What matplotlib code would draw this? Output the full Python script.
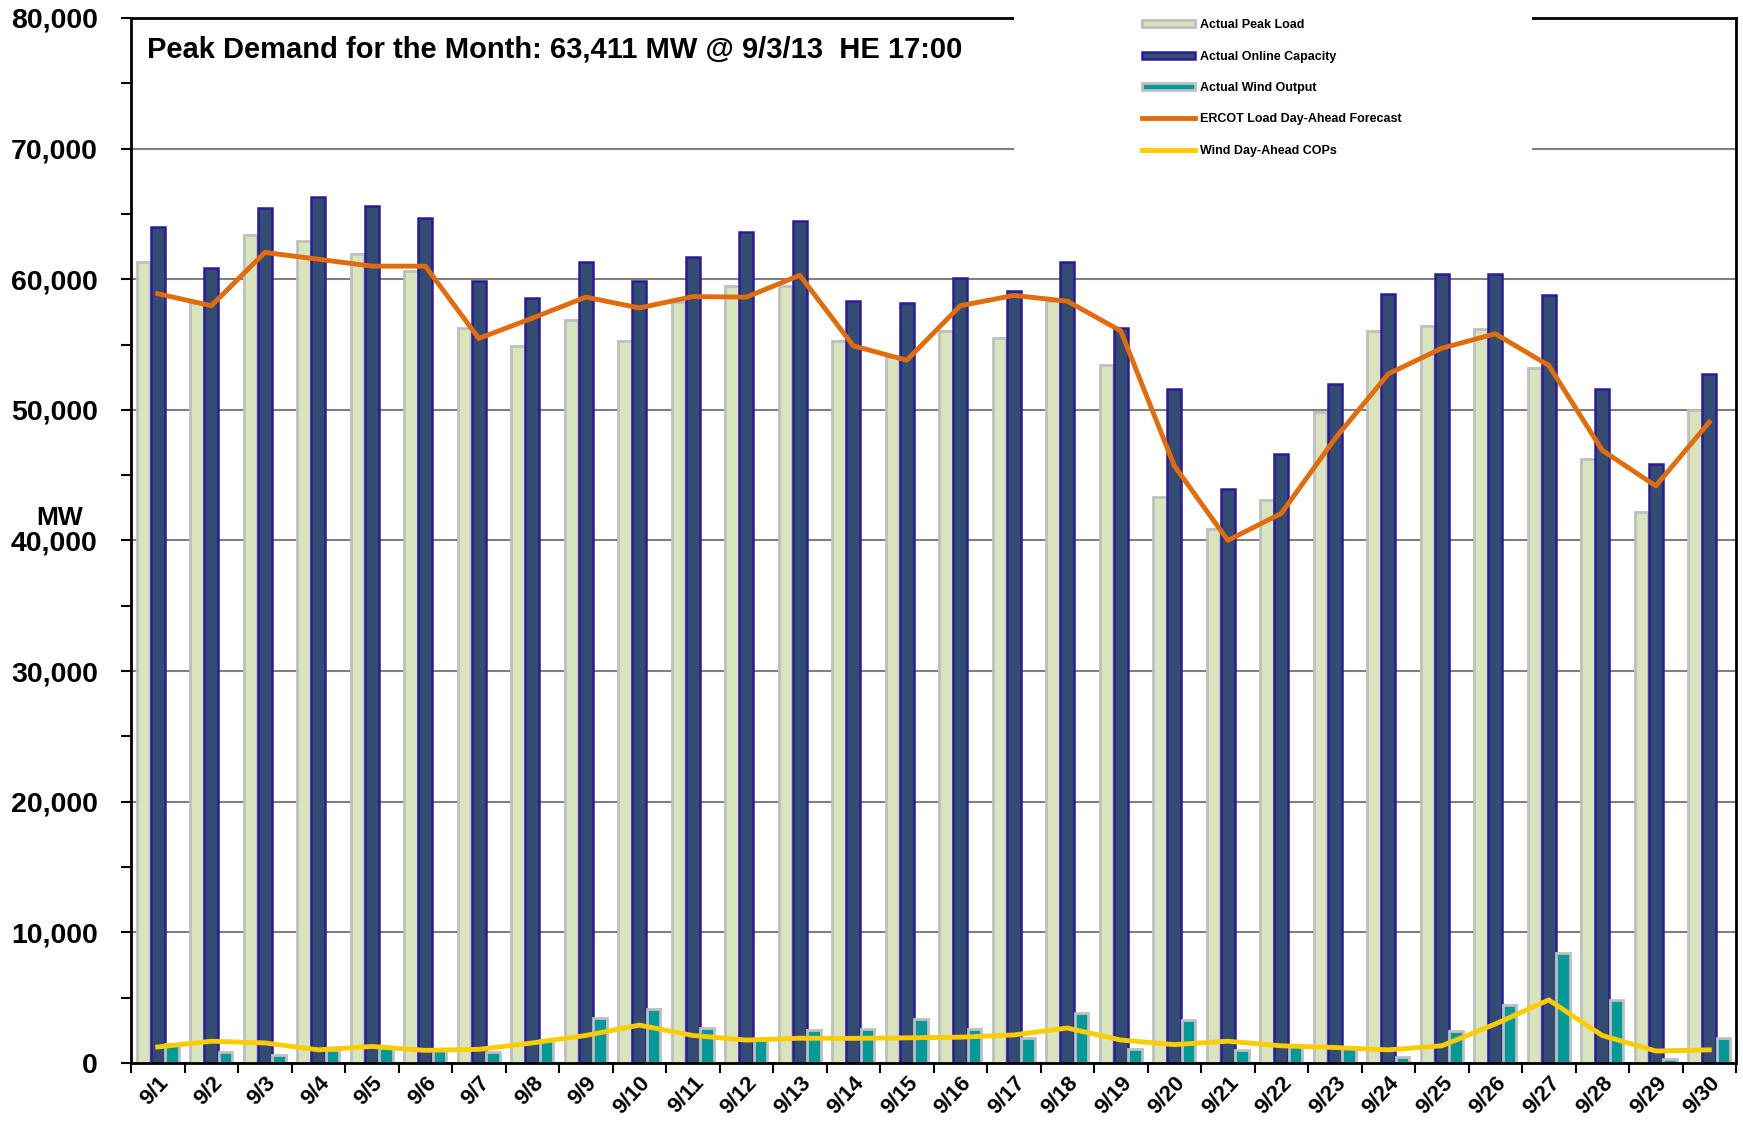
import numpy as np
import matplotlib
matplotlib.use("Agg")
from matplotlib import pyplot as plt
from matplotlib.patches import Rectangle
from matplotlib.ticker import FuncFormatter, MultipleLocator

plt.rcParams['font.family'] = ['Liberation Sans', 'DejaVu Sans']

# datos (MW)
dias = ["9/%d" % d for d in range(1, 31)]
carga_pico = [61350, 58190, 63411, 62930, 61920, 60650, 56300, 54850, 56870, 55250,
              58230, 59510, 59490, 55250, 54020, 56000, 55510, 58320, 53400, 43300,
              40890, 43080, 49800, 56040, 56430, 56170, 53190, 46200, 42160, 49980]
capacidad = [64030, 60830, 65480, 66310, 65570, 64650, 59860, 58540, 61310, 59860,
             61700, 63640, 64470, 58320, 58150, 60080, 59070, 61310, 56300, 51600,
             43920, 46640, 51950, 58850, 60390, 60390, 58760, 51560, 45850, 52740]
eolica = [1450, 830, 610, 1010, 1140, 1010, 830, 1760, 3430, 4130,
          2680, 1760, 2500, 2640, 3380, 2640, 1890, 3860, 1050, 3290,
          970, 1270, 1230, 440, 2460, 4480, 8390, 4830, 310, 1890]
pronostico = [58890, 57970, 62050, 61530, 61000, 61000, 55470, 57020, 58630, 57800,
              58670, 58630, 60300, 54900, 53800, 57970, 58760, 58320, 56040, 45720,
              40010, 42070, 47780, 52750, 54720, 55820, 53400, 46900, 44180, 49060]
cop_eolica = [1230, 1670, 1540, 1010, 1270, 970, 1050, 1540, 2110, 2900,
              2110, 1760, 1900, 1890, 1930, 1980, 2150, 2680, 1760, 1410,
              1670, 1320, 1190, 1010, 1320, 2990, 4830, 2110, 920, 1010]

x = np.arange(len(dias))
fig = plt.figure(figsize=(17.43, 11.21), dpi=100)
ax = fig.add_axes([0.0752, 0.0517, 0.9208, 0.9323])

ax.yaxis.grid(True, color="#808080", linewidth=1.5, zorder=0)
ax.set_axisbelow(True)

b1 = ax.bar(x - 0.265, carga_pico, 0.25, color="#D8E4BC", edgecolor="#BFBFBF",
            linewidth=2, label="Actual Peak Load", zorder=2)
b2 = ax.bar(x, capacidad, 0.26, color="#334C72", edgecolor="#2B1A9C",
            linewidth=1.8, label="Actual Online Capacity", zorder=2)
b3 = ax.bar(x + 0.265, eolica, 0.25, color="#009999", edgecolor="#BFBFBF",
            linewidth=2, label="Actual Wind Output", zorder=2)
l1, = ax.plot(x, pronostico, color="#E36C0A", linewidth=3.5,
              label="ERCOT Load Day-Ahead Forecast", zorder=3)
l2, = ax.plot(x, cop_eolica, color="#FFCC00", linewidth=3.5,
              label="Wind Day-Ahead COPs", zorder=3)

ax.set_xlim(-0.5, len(dias) - 0.5)
ax.set_ylim(0, 80000)
ax.yaxis.set_major_locator(MultipleLocator(10000))
ax.yaxis.set_minor_locator(MultipleLocator(5000))
ax.yaxis.set_major_formatter(FuncFormatter(lambda v, p: "{:,.0f}".format(v)))
ax.tick_params(axis="y", which="both", direction="out", length=7, width=1.5,
               labelsize=20.5, pad=17)
for t in ax.get_yticklabels():
    t.set_fontweight("bold")

ax.set_xticks(x)
ax.set_xticklabels(dias, rotation=47, ha="right", va="top",
                   rotation_mode="anchor", fontsize=16, fontweight="bold")
ax.set_xticks(np.arange(len(dias) + 1) - 0.5, minor=True)
ax.tick_params(axis="x", which="major", length=0, pad=7)
ax.tick_params(axis="x", which="minor", direction="out", length=7, width=1.5)

for s in ax.spines.values():
    s.set_linewidth(2)
    s.set_color("black")

ax.text(0.01, 0.970, "Peak Demand for the Month: 63,411 MW @ 9/3/13  HE 17:00",
        transform=ax.transAxes, fontsize=21, fontweight="bold", va="center", ha="left")
fig.text(0.034, 0.538, "MW", fontsize=19, fontweight="bold", va="center", ha="center")

# caja blanca de la leyenda
caja = Rectangle((1014 / 1743, 1 - 165 / 1121), 518 / 1743, 165 / 1121,
                 transform=fig.transFigure, facecolor="white", edgecolor="none", zorder=4)
fig.patches.append(caja)
leg = fig.legend(handles=[b1, b2, b3, l1, l2], loc="upper left",
                 bbox_to_anchor=(1131 / 1743, 1 - 8 / 1121), frameon=False,
                 prop={"size": 9, "weight": "bold"}, handlelength=4.2,
                 handleheight=0.45, labelspacing=1.55, handletextpad=0.4)
leg.set_zorder(6)

fig.savefig("out.png", dpi=100)
